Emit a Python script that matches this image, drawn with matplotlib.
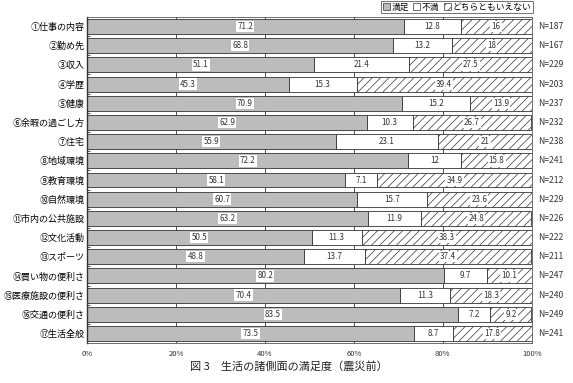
import numpy as np
import matplotlib
matplotlib.use("Agg")
import matplotlib.pyplot as plt
from matplotlib.patches import Patch

plt.rcParams["font.family"] = ["Noto Sans CJK JP", "DejaVu Sans"]
plt.rcParams["hatch.color"] = "#a8a8a8"
plt.rcParams["hatch.linewidth"] = 0.5

categories = [
    "①仕事の内容", "②勤め先", "③収入", "④学歴", "⑤健康", "⑥余暇の過ごし方",
    "⑦住宅", "⑧地域環境", "⑨教育環境", "⑩自然環境", "⑪市内の公共施設",
    "⑫文化活動", "⑬スポーツ", "⑭買い物の便利さ", "⑮医療施設の便利さ",
    "⑯交通の便利さ", "⑰生活全般",
]
satisfied = [71.2, 68.8, 51.1, 45.3, 70.9, 62.9, 55.9, 72.2, 58.1, 60.7, 63.2,
             50.5, 48.8, 80.2, 70.4, 83.5, 73.5]
dissatisfied = [12.8, 13.2, 21.4, 15.3, 15.2, 10.3, 23.1, 12, 7.1, 15.7, 11.9,
                11.3, 13.7, 9.7, 11.3, 7.2, 8.7]
neither = [16, 18, 27.5, 39.4, 13.9, 26.7, 21, 15.8, 34.9, 23.6, 24.8,
           38.3, 37.4, 10.1, 18.3, 9.2, 17.8]
counts = [187, 167, 229, 203, 237, 232, 238, 241, 212, 229, 226, 222, 211,
          247, 240, 249, 241]
series_names = ["満足", "不満", "どちらともいえない"]

fig = plt.figure(figsize=(5.73, 3.83), dpi=100)
ax = fig.add_axes([0.152, 0.104, 0.776, 0.852])

y = np.arange(len(categories))
height = 0.78
styles = [
    dict(color="#bcbcbc", hatch=None),
    dict(color="white", hatch=None),
    dict(color="white", hatch="////"),
]
left = np.zeros(len(categories))
for values, style in zip((satisfied, dissatisfied, neither), styles):
    values = np.array(values, dtype=float)
    ax.barh(y, values, left=left, height=height, color=style["color"],
            edgecolor="#333333", linewidth=0.6, hatch=style["hatch"], zorder=2)
    for yi, (l, v) in enumerate(zip(left, values)):
        ax.text(l + v / 2, yi, f"{v:g}", ha="center", va="center", fontsize=5.8,
                color="#333333", zorder=3,
                bbox=dict(boxstyle="square,pad=0.15", facecolor="white",
                          edgecolor="none"))
    left += values

for yi, n in enumerate(counts):
    ax.text(1.015, yi, f"N={n}", transform=ax.get_yaxis_transform(),
            ha="left", va="center", fontsize=6.2, color="#333333")

ax.set_xlim(0, 100)
ax.set_ylim(len(categories) - 0.5, -0.5)
ax.set_yticks(y, labels=categories)
ax.set_yticks(y[:-1] + 0.5, minor=True)
ax.set_xticks(np.arange(0, 101, 20), labels=[f"{v}%" for v in range(0, 101, 20)])
ax.tick_params(axis="y", which="major", length=0, labelsize=6.5, pad=2)
ax.tick_params(axis="y", which="minor", length=2.5, direction="in",
               width=0.6, color="#333333")
ax.tick_params(axis="x", length=0, labelsize=5.5, pad=5, colors="#333333")
ax.xaxis.grid(True, color="#333333", linewidth=0.6, zorder=0)
ax.set_axisbelow(True)
for spine in ax.spines.values():
    spine.set_color("#555555")
    spine.set_linewidth(0.6)
ax.spines["left"].set_linewidth(1.0)
ax.spines["left"].set_color("#333333")

handles = [Patch(facecolor=s["color"], edgecolor="#333333", hatch=s["hatch"],
                 linewidth=0.5) for s in styles]
leg = fig.legend(handles, series_names, loc="upper right",
                 bbox_to_anchor=(0.932, 1.0), ncol=3, fontsize=6.3,
                 frameon=True, fancybox=False, handlelength=0.8,
                 handleheight=0.8, handletextpad=0.2, columnspacing=0.5,
                 borderpad=0.15, borderaxespad=0.15)
leg.get_frame().set_edgecolor("#333333")
leg.get_frame().set_linewidth(0.6)

fig.text(0.505, 0.044, "図 3　生活の諸側面の満足度（震災前）", ha="center",
         va="center", fontsize=8, color="#222222")

fig.savefig("out.png", dpi=100)
